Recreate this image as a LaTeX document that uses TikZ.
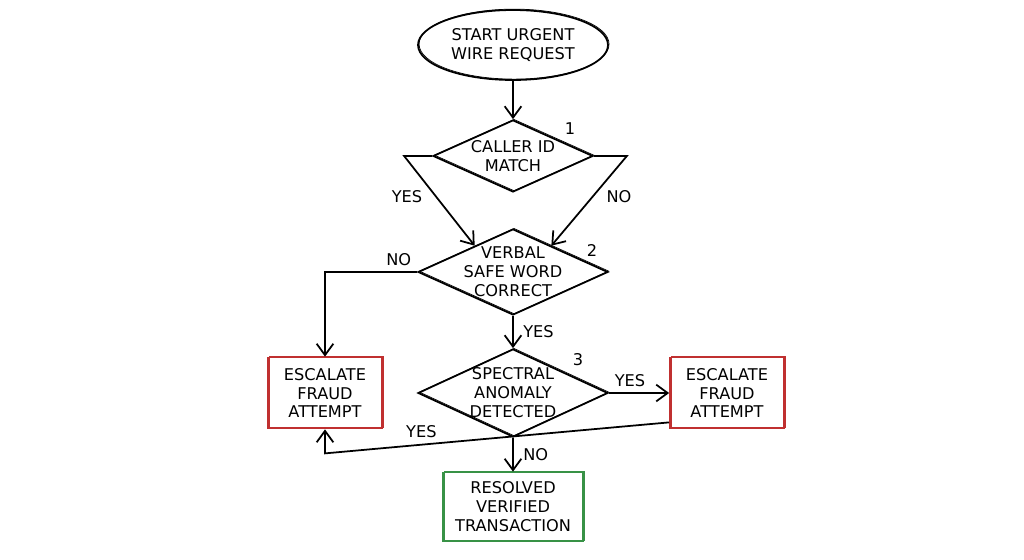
\documentclass[tikz,border=0pt]{standalone}
\usepackage{fontspec}
\setmainfont{DejaVu Sans}
\usetikzlibrary{shapes.geometric,arrows.meta,calc}
\definecolor{fraudred}{RGB}{192,48,48}
\definecolor{okgreen}{RGB}{56,146,70}
\tikzset{
  flowline/.style={line width=1pt, -{Straight Barb[length=6.5pt,width=9.5pt]}},
  sketch/.style={postaction={draw, line width=0.4pt, transform canvas={shift={(0.6pt,0.5pt)}}}},
  decision/.style={draw, diamond, line width=1pt, align=center, inner sep=-10pt, sketch},
  outcome/.style={draw, rectangle, line width=1pt, align=center, sketch},
}
\begin{document}
\begin{tikzpicture}[x=0.02cm, y=-0.02cm, font=\fontsize{9.2}{10.8}\selectfont]
  \pgfmathsetmacro{\midX}{513};
  \pgfmathsetmacro{\leftX}{325};
  \pgfmathsetmacro{\rightX}{727};
  \useasboundingbox (0,0) rectangle (1024,559);
  %% Start of the request
  \node[draw, ellipse, line width=1pt, sketch, align=center, minimum width=3.8cm, minimum height=1.4cm, inner sep=0pt] (start) at (\midX,45) {START URGENT\\WIRE REQUEST};
  %% Decisions
  \node[decision, minimum width=3.2cm, minimum height=1.44cm] (callerid) at (\midX,156) {CALLER ID\\MATCH};
  \node[decision, minimum width=3.8cm, minimum height=1.72cm] (safeword) at (\midX,272) {VERBAL\\SAFE WORD\\CORRECT};
  \node[decision, minimum width=3.8cm, minimum height=1.76cm] (spectral) at (\midX,393) {SPECTRAL\\ANOMALY\\DETECTED};
  \node (num1) at (570,129) {1};
  \node (num2) at (592,250) {2};
  \node (num3) at (578,360) {3};
  %% Outcomes
  \node[outcome, draw=fraudred, minimum width=2.28cm, minimum height=1.42cm] (escleft) at (\leftX,393) {ESCALATE\\FRAUD\\ATTEMPT};
  \node[outcome, draw=fraudred, minimum width=2.28cm, minimum height=1.42cm] (escright) at (\rightX,393) {ESCALATE\\FRAUD\\ATTEMPT};
  \node[outcome, draw=okgreen, minimum width=2.8cm, minimum height=1.38cm] (resolved) at (\midX,507) {RESOLVED\\VERIFIED\\TRANSACTION};
  %% Connections
  \draw[flowline] (start) -- (callerid);
  \draw[flowline] (callerid.west) -- ++(-28,0) -- node[pos=0.45, left=4pt]{YES} ($(safeword.north)!0.4!(safeword.west)$);
  \draw[flowline] (callerid.east) -- ++(33,0) -- node[pos=0.45, right=4pt]{NO} ($(safeword.north)!0.4!(safeword.east)$);
  \draw[flowline] (safeword.west) -- node[pos=0.2, above]{NO} (\leftX,272) -- (escleft.north);
  \draw[flowline] (safeword.south) -- node[right=2pt]{YES} (spectral.north);
  \draw[flowline] (spectral.east) -- node[above, pos=0.35]{YES} (escright.west);
  \draw[flowline] ($(escright.south west)+(0,-7)$) -- node[above, pos=0.72]{YES} ($(escleft.south)+(0,24)$) -- (escleft.south);
  \draw[flowline] (spectral.south) -- node[right=2pt]{NO} (resolved.north);
\end{tikzpicture}
\end{document}
